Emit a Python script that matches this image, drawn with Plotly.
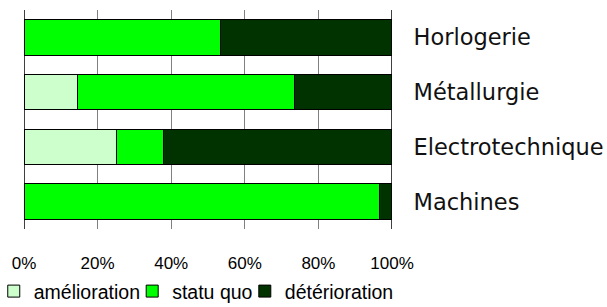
import plotly.graph_objects as go

categories = ["Horlogerie", "Métallurgie", "Electrotechnique", "Machines"]
amelioration = [0, 14.6, 25.0, 0]
statu_quo = [53.4, 59.0, 12.9, 96.5]
deterioration = [46.6, 26.4, 62.1, 3.5]
tick_vals = [0, 20, 40, 60, 80, 100]
tick_text = ["0%", "20%", "40%", "60%", "80%", "100%"]

series = [
    ("amélioration", amelioration, "#CCFFCC", "legend", -0.0822),
    ("statu quo", statu_quo, "#00FF00", "legend2", 0.294),
    ("détérioration", deterioration, "#003300", "legend3", 0.600),
]

fig = go.Figure()
for name, vals, col, leg, _ in series:
    fig.add_trace(go.Bar(
        y=categories, x=vals, name=name, orientation="h",
        marker=dict(color=col, line=dict(color="#000000", width=1)),
        legend=leg, hoverinfo="skip",
    ))

legend_font = dict(family="Liberation Sans, Arial", size=19.5, color="#000")
legends = {}
for _, _, _, leg, lx in series:
    legends[leg] = dict(orientation="h", x=lx, xanchor="left", y=-0.196, yanchor="top",
                        font=legend_font, itemwidth=30, bgcolor="rgba(0,0,0,0)")

fig.update_layout(
    barmode="stack",
    bargap=0.35,
    width=607, height=307,
    margin=dict(l=24, r=215, t=10, b=78, autoexpand=False),
    paper_bgcolor="white", plot_bgcolor="white",
    showlegend=True,
    xaxis=dict(range=[0, 100], tickvals=tick_vals, ticktext=tick_text,
               showgrid=True, gridcolor="#808080", gridwidth=1,
               zeroline=False, showline=False, automargin=False,
               ticks="outside", ticklen=19, tickcolor="rgba(0,0,0,0)",
               tickfont=dict(family="Liberation Sans, Arial", size=17, color="#000")),
    yaxis=dict(categoryorder="array", categoryarray=categories, autorange="reversed",
               side="right", showgrid=False, zeroline=False, showline=False,
               automargin=False,
               ticks="outside", ticklen=16, tickcolor="rgba(0,0,0,0)",
               tickfont=dict(family="DejaVu Sans, Verdana", size=22.5, color="#111")),
    **legends,
)
for xv in (0, 100):
    fig.add_shape(type="line", xref="x", yref="paper", x0=xv, x1=xv, y0=0, y1=1,
                  line=dict(color="#000000", width=1.5), layer="above")

fig.write_html("out.html", config={"displayModeBar": False},
               post_script="document.body.style.margin='0';document.body.style.overflow='hidden';")
